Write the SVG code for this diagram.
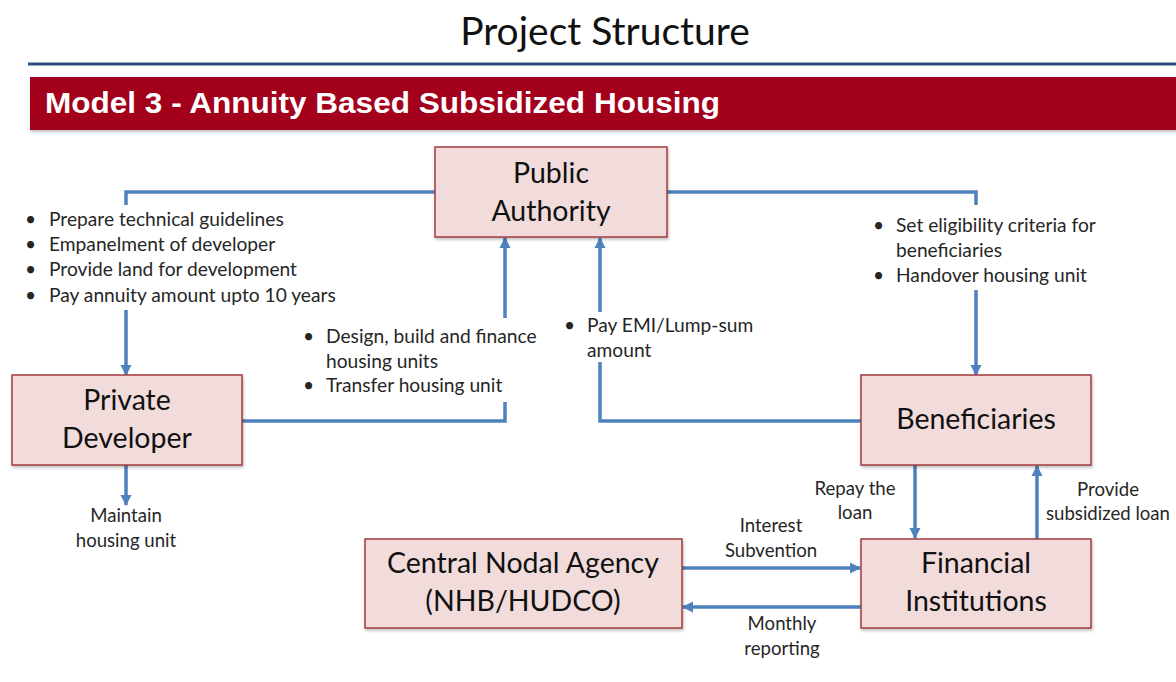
<svg xmlns="http://www.w3.org/2000/svg" width="1176" height="682" viewBox="0 0 1176 682">
<style>
.title{font-family:Lato,"Open Sans","Liberation Sans",sans-serif;font-size:39px;fill:#111;text-anchor:middle}
.banner{font-family:"Liberation Sans",Arial,sans-serif;font-weight:bold;font-size:29px;fill:#fff}
.box{fill:#f2dcdb;stroke:#a33a3e;stroke-width:1.5}
.nt{font-family:Lato,"Open Sans","Liberation Sans",sans-serif;font-size:28.5px;fill:#111;text-anchor:middle}
.lb{font-family:Lato,"Open Sans","Liberation Sans",sans-serif;font-size:19.2px;fill:#262626}
.lc{font-family:Lato,"Open Sans","Liberation Sans",sans-serif;font-size:18.6px;fill:#262626;text-anchor:middle}
.cn{fill:none;stroke:#4f81bd;stroke-width:3.5}
.ca{fill:none;stroke:#4f81bd;stroke-width:3.5;marker-end:url(#ah)}
</style>
<defs>
<marker id="ah" markerUnits="userSpaceOnUse" markerWidth="12" markerHeight="12" viewBox="0 0 12 12" refX="10" refY="6" orient="auto">
<path d="M0,0.5 L11,6 L0,11.5 Z" fill="#4f81bd"/>
</marker>
<filter id="sh" x="-5%" y="-5%" width="110%" height="115%">
<feDropShadow dx="1" dy="2" stdDeviation="1.5" flood-color="#000" flood-opacity="0.25"/>
</filter>
</defs>
<rect width="1176" height="682" fill="#fff"/>
<text class="title" x="605" y="45">Project Structure</text>
<rect x="28" y="62.5" width="1148" height="3" fill="#2c4f7f"/>
<rect x="30" y="77" width="1146" height="53" fill="#a3001f" filter="url(#sh)"/>
<text class="banner" x="45" y="113" textLength="675" lengthAdjust="spacingAndGlyphs">Model 3 - Annuity Based Subsidized Housing</text>

<g id="connectors">
<path class="cn" d="M435,192 H126 V205"/>
<path class="ca" d="M126,310 V375"/>
<path class="cn" d="M667,192 H976 V205"/>
<path class="ca" d="M976,290 V375"/>
<path class="cn" d="M242,421 H505 V402"/>
<path class="ca" d="M505,318 V238"/>
<path class="cn" d="M861,421 H600 V362"/>
<path class="ca" d="M600,312 V238"/>
<path class="ca" d="M126,465 V505"/>
<path class="ca" d="M915,465 V538"/>
<path class="ca" d="M1037,539 V466"/>
<path class="ca" d="M682,568 H860"/>
<path class="ca" d="M861,607 H683"/>
</g>

<g id="public-authority">
<rect class="box" x="435" y="147" width="232" height="90" filter="url(#sh)"/>
<text class="nt" x="551" y="183">Public</text>
<text class="nt" x="551" y="221">Authority</text>
</g>
<g id="private-developer">
<rect class="box" x="12" y="375" width="230" height="90" filter="url(#sh)"/>
<text class="nt" x="127" y="410">Private</text>
<text class="nt" x="127" y="448">Developer</text>
</g>
<g id="beneficiaries">
<rect class="box" x="861" y="375" width="230" height="90" filter="url(#sh)"/>
<text class="nt" x="976" y="429">Beneficiaries</text>
</g>
<g id="central-nodal-agency">
<rect class="box" x="365" y="539" width="317" height="89" filter="url(#sh)"/>
<text class="nt" x="523" y="573">Central Nodal Agency</text>
<text class="nt" x="523" y="611">(NHB/HUDCO)</text>
</g>
<g id="financial-institutions">
<rect class="box" x="861" y="539" width="230" height="89" filter="url(#sh)"/>
<text class="nt" x="976" y="573">Financial</text>
<text class="nt" x="976" y="611">Institutions</text>
</g>

<g id="labels">
<text class="lb" x="25" y="226">•</text><text class="lb" x="49" y="226">Prepare technical guidelines</text>
<text class="lb" x="25" y="251">•</text><text class="lb" x="49" y="251">Empanelment of developer</text>
<text class="lb" x="25" y="276">•</text><text class="lb" x="49" y="276">Provide land for development</text>
<text class="lb" x="25" y="302">•</text><text class="lb" x="49" y="302">Pay annuity amount upto 10 years</text>

<text class="lb" x="303" y="343">•</text><text class="lb" x="326" y="343">Design, build and finance</text>
<text class="lb" x="326" y="368">housing units</text>
<text class="lb" x="303" y="392">•</text><text class="lb" x="326" y="392">Transfer housing unit</text>

<text class="lb" x="564" y="332">•</text><text class="lb" x="587" y="332">Pay EMI/Lump-sum</text>
<text class="lb" x="587" y="357">amount</text>

<text class="lb" x="873" y="232">•</text><text class="lb" x="896" y="232">Set eligibility criteria for</text>
<text class="lb" x="896" y="257">beneficiaries</text>
<text class="lb" x="873" y="282">•</text><text class="lb" x="896" y="282">Handover housing unit</text>

<text class="lc" x="126" y="522">Maintain</text>
<text class="lc" x="126" y="547">housing unit</text>
<text class="lc" x="855" y="495">Repay the</text>
<text class="lc" x="855" y="519">loan</text>
<text class="lc" x="1108" y="496">Provide</text>
<text class="lc" x="1108" y="520">subsidized loan</text>
<text class="lc" x="771" y="532">Interest</text>
<text class="lc" x="771" y="557">Subvention</text>
<text class="lc" x="782" y="630">Monthly</text>
<text class="lc" x="782" y="655">reporting</text>
</g>
</svg>
